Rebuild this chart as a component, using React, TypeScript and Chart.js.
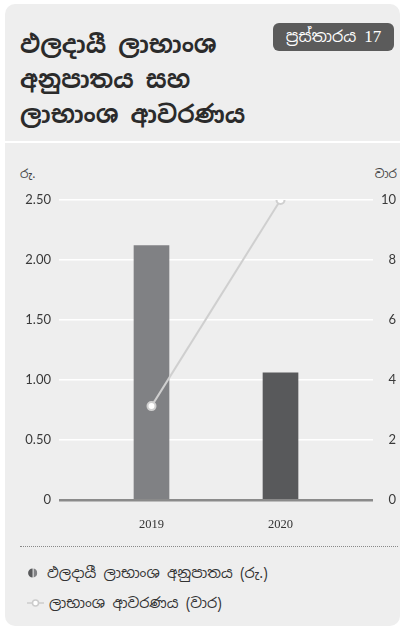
import React, { useEffect, useRef } from "react";
import { Chart, registerables } from "chart.js";

Chart.register(...registerables);

// Years on the x axis
const years = ["2019", "2020"];
// Dividend payout ratio (Rs.)
const payoutRatio = [2.12, 1.06];
// Dividend cover (times)
const dividendCover = [3.13, 10];
// Axis ranges
const leftTicks = [0, 0.5, 1, 1.5, 2, 2.5];
const rightTicks = [0, 2, 4, 6, 8, 10];

const barColors = ["#808184", "#58595b"];
const SINHALA = "'Noto Sans Sinhala', 'Noto Serif Sinhala', 'Iskoola Pota', sans-serif";

export default function App() {
  const canvasRef = useRef<HTMLCanvasElement | null>(null);

  useEffect(() => {
    if (!canvasRef.current) return;
    const chart = new Chart(canvasRef.current, {
      type: "bar",
      data: {
        datasets: [
          {
            type: "line",
            label: "ලාභාංශ ආවරණය (වාර)",
            data: dividendCover.map((v, i) => ({ x: i, y: v })),
            yAxisID: "y1",
            borderColor: "#cfcfcf",
            borderWidth: 2,
            pointRadius: 4,
            pointBorderWidth: 2,
            pointBackgroundColor: "#ffffff",
            pointBorderColor: "#cfcfcf",
            order: 0,
          } as any,
          {
            type: "bar",
            label: "ඵලදායී ලාභාංශ අනුපාතය (රු.)",
            data: payoutRatio.map((v, i) => ({ x: i, y: v })),
            yAxisID: "y",
            backgroundColor: barColors,
            barThickness: 35,
            order: 1,
          } as any,
        ],
      },
      options: {
        animation: false,
        responsive: false,
        maintainAspectRatio: false,
        layout: { padding: { left: 0, right: 9, top: 50, bottom: 0 } },
        plugins: { legend: { display: false }, tooltip: { enabled: false } },
        scales: {
          x: {
            type: "linear",
            offset: false,
            min: -0.717,
            max: 1.717,
            grid: { display: false },
            border: { display: false },
            afterBuildTicks: (s: any) => {
              s.ticks = years.map((_, i) => ({ value: i }));
            },
            afterFit: (s: any) => {
              s.height = 40;
            },
            ticks: {
              padding: 9,
              color: "#333333",
              font: { family: "'Liberation Serif', serif", size: 12.5 },
              callback: (v: any) => years[v as number] ?? "",
            },
          },
          y: {
            position: "left",
            min: 0,
            max: 2.5,
            afterBuildTicks: (s: any) => {
              s.ticks = leftTicks.map((v) => ({ value: v }));
            },
            afterFit: (s: any) => {
              s.width = 59;
            },
            border: { display: false },
            grid: {
              drawTicks: false,
              color: (c: any) => (c.tick && c.tick.value === 0 ? "#8a8a8a" : "#ffffff"),
              lineWidth: (c: any) => (c.tick && c.tick.value === 0 ? 2.5 : 1.5),
            },
            ticks: {
              padding: 8,
              color: "#3a3a3a",
              font: { family: "Lato, sans-serif", size: 13 },
              callback: (v: any) => (v === 0 ? "0" : Number(v).toFixed(2)),
            },
          },
          y1: {
            position: "right",
            min: 0,
            max: 10,
            afterBuildTicks: (s: any) => {
              s.ticks = rightTicks.map((v) => ({ value: v }));
            },
            afterFit: (s: any) => {
              s.width = 23;
            },
            border: { display: false },
            grid: { display: false, drawTicks: false },
            ticks: {
              padding: 8,
              crossAlign: "far",
              color: "#3a3a3a",
              font: { family: "Lato, sans-serif", size: 13 },
            },
          },
        },
      },
    });
    return () => chart.destroy();
  }, []);

  return (
    <div style={{ position: "fixed", left: 0, top: 0, width: 405, height: 628, background: "#ffffff", overflow: "hidden" }}>
      <div
        style={{
          position: "absolute",
          left: 5,
          top: 4,
          width: 395,
          height: 622,
          borderRadius: 10,
          background: "#eeeeee",
        }}
      />
      <div style={{ position: "absolute", left: 5, top: 141, width: 395, height: 2, background: "#ffffff" }} />
      <div
        style={{
          position: "absolute",
          left: 20,
          top: 27,
          fontFamily: SINHALA,
          fontWeight: 700,
          fontSize: 24,
          lineHeight: "35px",
          color: "#2b2b2b",
        }}
      >
        <div>ඵලදායී ලාභාංශ</div>
        <div>අනුපාතය සහ</div>
        <div>ලාභාංශ ආවරණය</div>
      </div>
      <div
        style={{
          position: "absolute",
          left: 273,
          top: 23,
          width: 121,
          height: 28,
          borderRadius: 6,
          background: "#5b5b5b",
          color: "#ffffff",
          fontFamily: SINHALA,
          fontSize: 16,
          lineHeight: "28px",
          textAlign: "center",
        }}
      >
        ප්‍රස්තාරය <span style={{ fontFamily: "'Liberation Serif', serif", fontSize: 17 }}>17</span>
      </div>
      <div style={{ position: "absolute", left: 20, top: 165, fontFamily: SINHALA, fontSize: 12, color: "#444", lineHeight: "18px" }}>
        රු.
      </div>
      <div style={{ position: "absolute", right: 8, top: 165, fontFamily: SINHALA, fontSize: 12, color: "#444", lineHeight: "18px" }}>
        වාර
      </div>
      <canvas ref={canvasRef} width={405} height={390} style={{ position: "absolute", left: 0, top: 150, width: 405, height: 390 }} />
      <div style={{ position: "absolute", left: 20, top: 546, width: 378, borderTop: "1px dotted #888" }} />
      <div style={{ position: "absolute", left: 27, top: 563, display: "flex", alignItems: "center", fontFamily: SINHALA, fontSize: 14.5, color: "#333", lineHeight: "20px" }}>
        <svg width={12} height={12} style={{ marginRight: 8 }}>
          <path d="M5.6 1.5 A4.5 4.5 0 0 0 5.6 10.5 Z" fill="#58595b" />
          <path d="M6.6 1.6 A4.5 4.5 0 0 1 6.6 10.4 Z" fill="#808184" />
        </svg>
        ඵලදායී ලාභාංශ අනුපාතය (රු.)
      </div>
      <div style={{ position: "absolute", left: 27, top: 593, display: "flex", alignItems: "center", fontFamily: SINHALA, fontSize: 14.5, color: "#333", lineHeight: "20px" }}>
        <svg width={17} height={10} style={{ marginRight: 5 }}>
          <line x1={0} y1={5} x2={17} y2={5} stroke="#cccccc" strokeWidth={1.5} />
          <circle cx={8.5} cy={5} r={3} fill="#ffffff" stroke="#cccccc" strokeWidth={1.5} />
        </svg>
        ලාභාංශ ආවරණය (වාර)
      </div>
    </div>
  );
}
